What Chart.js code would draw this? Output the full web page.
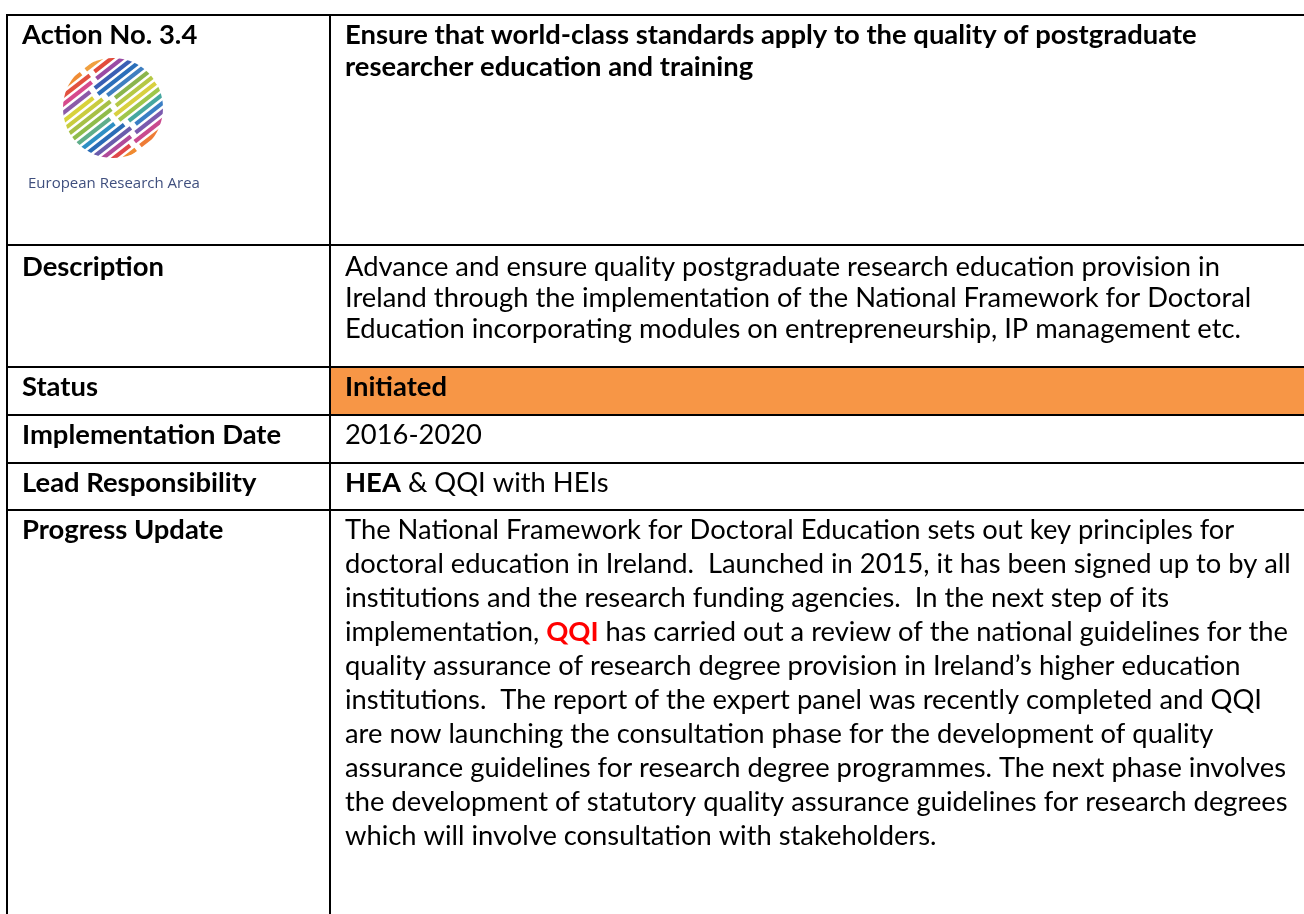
<!DOCTYPE html>
<html><head><meta charset="utf-8">
<script src="https://cdn.jsdelivr.net/npm/chart.js@4.4.1/dist/chart.umd.min.js"></script>
<style>html,body{margin:0;padding:0;background:#fff;overflow:hidden}#wrap{width:1304px;height:914px}canvas{display:block}</style>
</head><body><div id="wrap"><canvas id="c" width="1304" height="914"></canvas></div>
<script>
// ---- content (data) ----
const actionLabel = 'Action No. 3.4';
const logoCaption = 'European Research Area';
const titleLines = [
  'Ensure that world-class standards apply to the quality of postgraduate',
  'researcher education and training'
];
const rowLabels = ['Description', 'Status', 'Implementation Date', 'Lead Responsibility', 'Progress Update'];
const descriptionLines = [
  'Advance and ensure quality postgraduate research education provision in',
  'Ireland through the implementation of the National Framework for Doctoral',
  'Education incorporating modules on entrepreneurship, IP management etc.'
];
const statusLines = ['**Initiated**'];
const dateLines = ['2016-2020'];
const leadLines = ['**HEA** & QQI with HEIs'];
const progressLines = [
  'The National Framework for Doctoral Education sets out key principles for',
  'doctoral education in Ireland.  Launched in 2015, it has been signed up to by all',
  'institutions and the research funding agencies.  In the next step of its',
  'implementation, !!QQI!! has carried out a review of the national guidelines for the',
  'quality assurance of research degree provision in Ireland\u2019s higher education',
  'institutions.  The report of the expert panel was recently completed and QQI',
  'are now launching the consultation phase for the development of quality',
  'assurance guidelines for research degree programmes. The next phase involves',
  'the development of statutory quality assurance guidelines for research degrees',
  'which will involve consultation with stakeholders.'
];
const rowValues = [descriptionLines, statusLines, dateLines, leadLines, progressLines];

// ---- layout (positions / styles) ----
const L = {
  rowEdges: [15, 245, 367, 415, 463, 510, 1000],
  colEdges: [7, 330, 1320],
  labelX: 22, valueX: 345,
  rowBaselineOffsets: [31, 29, 29, 29, 29],
  rowGaps: [31, 31, 31, 31, 34],
  headerBaselines: [44, 76],
  statusFill: '#f79646',
  border: '#000000',
  refRegular: 875, refBold: 852,
  logo: {cx: 113, cy: 108, r: 50},
  caption: {x: 28, y: 188, w: 172, color: '#3f4f7e'}
};

const tablePlugin = {
  id: 'tablePlugin',
  afterDraw(chart) {
    const ctx = chart.ctx;
    const xs = chart.scales.x, ys = chart.scales.y;
    const X = v => xs.getPixelForValue(v);
    const Y = v => ys.getPixelForValue(v);
    const FONT = 'Lato, "Noto Sans", sans-serif';

    ctx.save();
    ctx.font = '100px ' + FONT;
    const regSize = 100 * L.refRegular / ctx.measureText(descriptionLines[0]).width;
    ctx.font = 'bold 100px ' + FONT;
    const boldSize = 100 * L.refBold / ctx.measureText(titleLines[0]).width;
    const fReg = regSize.toFixed(2) + 'px ' + FONT;
    const fBold = 'bold ' + boldSize.toFixed(2) + 'px ' + FONT;

    // status cell fill
    const r = L.rowEdges;
    ctx.fillStyle = L.statusFill;
    ctx.fillRect(X(L.colEdges[1]), Y(r[2]), X(L.colEdges[2]) - X(L.colEdges[1]), Y(r[3]) - Y(r[2]));

    // borders
    ctx.strokeStyle = L.border;
    ctx.lineWidth = 2;
    ctx.beginPath();
    for (let i = 0; i < r.length - 1; i++) {
      ctx.moveTo(X(L.colEdges[0]) - 1, Y(r[i]));
      ctx.lineTo(X(L.colEdges[2]), Y(r[i]));
    }
    ctx.moveTo(X(L.colEdges[0]), Y(r[0]) - 1);
    ctx.lineTo(X(L.colEdges[0]), Y(r[r.length - 1]));
    ctx.moveTo(X(L.colEdges[1]), Y(r[0]) - 1);
    ctx.lineTo(X(L.colEdges[1]), Y(r[r.length - 1]));
    ctx.stroke();

    // rich-text line drawer
    function drawRich(line, x, y) {
      const parts = line.split(/(\*\*[^*]+\*\*|!![^!]+!!)/).filter(s => s.length);
      let cx = x;
      for (const p of parts) {
        let t = p, font = fReg, color = '#000';
        if (p.startsWith('**')) { t = p.slice(2, -2); font = fBold; }
        else if (p.startsWith('!!')) { t = p.slice(2, -2); font = fBold; color = '#ff0000'; }
        ctx.font = font; ctx.fillStyle = color;
        ctx.fillText(t, cx, y);
        cx += ctx.measureText(t).width;
      }
    }
    ctx.textBaseline = 'alphabetic';
    ctx.textAlign = 'left';

    // header
    ctx.font = fBold; ctx.fillStyle = '#000';
    ctx.fillText(actionLabel, X(L.labelX), Y(L.headerBaselines[0]));
    titleLines.forEach((t, i) => ctx.fillText(t, X(L.valueX), Y(L.headerBaselines[i])));

    // rows
    rowLabels.forEach((lab, i) => {
      const base = r[i + 1] + L.rowBaselineOffsets[i];
      ctx.font = fBold; ctx.fillStyle = '#000';
      ctx.fillText(lab, X(L.labelX), Y(base));
      rowValues[i].forEach((line, j) => drawRich(line, X(L.valueX), Y(base + j * L.rowGaps[i])));
    });

    // logo
    const g = L.logo;
    const cx0 = X(g.cx), cy0 = Y(g.cy);
    ctx.save();
    ctx.beginPath();
    ctx.arc(cx0, cy0, g.r, 0, Math.PI * 2);
    ctx.clip();
    ctx.translate(cx0, cy0);
    ctx.rotate(-38 * Math.PI / 180);
    const leftCols = ['#f08c34','#e2513f','#d64a8c','#8c5aa8','#d8d23a','#c9cc3e','#a6c046','#8fbc4a','#5fae8a','#2e8fc4','#2a6cb6','#6a5cac','#b04a9a','#e0474a','#f08a30'];
    const rightCols = ['#f0a040','#e24a3a','#9a4aa4','#3a5fb4','#2b6fba','#3f7fc0','#8ab54c','#b5c845','#d8d040','#9fc64a','#46a7a0','#3a7ec4','#7a5aae','#c94a8e','#ee7c36'];
    const n = leftCols.length;
    const period = (2 * g.r) / n;
    for (let k = 0; k < n; k++) {
      const v = -g.r + k * period + 1.2;
      const th = period * 0.62;
      const off = Math.sin(k * 1.3) * 6;
      ctx.fillStyle = leftCols[k];
      ctx.fillRect(-g.r - 2, v, g.r + off - 2, th);
      ctx.fillStyle = rightCols[k];
      ctx.fillRect(off + 2, v, g.r + 2, th);
    }
    ctx.restore();

    // caption
    ctx.font = '100px "Open Sans", sans-serif';
    const capSize = 100 * L.caption.w / ctx.measureText(logoCaption).width;
    ctx.font = capSize.toFixed(2) + 'px "Open Sans", sans-serif';
    ctx.fillStyle = L.caption.color;
    ctx.fillText(logoCaption, X(L.caption.x), Y(L.caption.y));
    ctx.restore();
  }
};

new Chart(document.getElementById('c'), {
  type: 'scatter',
  data: { datasets: [] },
  options: {
    responsive: false, animation: false, events: [],
    layout: { padding: 0 },
    plugins: { legend: { display: false }, tooltip: { enabled: false }, title: { display: false } },
    scales: {
      x: { type: 'linear', min: 0, max: 1304, display: false },
      y: { type: 'linear', min: 0, max: 914, reverse: true, display: false }
    }
  },
  plugins: [tablePlugin]
});
</script></body></html>
